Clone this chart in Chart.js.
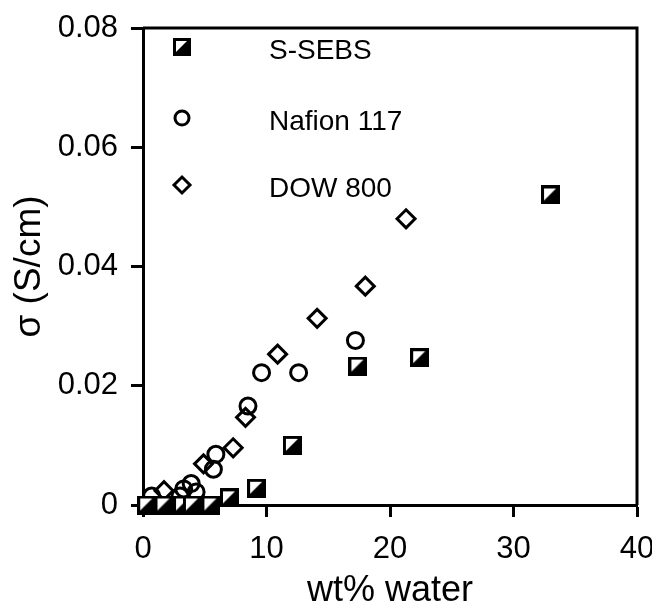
<!DOCTYPE html>
<html><head><meta charset="utf-8">
<script src="https://cdn.jsdelivr.net/npm/chart.js@4/dist/chart.umd.min.js"></script>
<style>html,body{margin:0;padding:0;background:#fff}#wrap{width:652px;height:613px}</style>
</head><body><div id="wrap"><canvas id="c" width="652" height="613"></canvas></div>
<script>
const seriesNames = ['S-SEBS', 'Nafion 117', 'DOW 800'];
const sebsX = [0.3, 1.7, 3.2, 4.0, 5.5, 7.0, 9.2, 12.1, 17.4, 22.4, 33.0];
const sebsY = [0, 0, 0, 0, 0, 0.0012, 0.0028, 0.0100, 0.0233, 0.0247, 0.0520];
const nafionX = [0.7, 3.0, 3.3, 3.9, 4.3, 5.7, 5.9, 8.5, 9.6, 12.6, 17.2];
const nafionY = [0.0015, 0.0015, 0.0027, 0.0036, 0.0022, 0.0060, 0.0085, 0.0166, 0.0222, 0.0222, 0.0276];
const dowX = [1.7, 4.9, 7.3, 8.3, 10.9, 14.1, 18.0, 21.3];
const dowY = [0.0024, 0.0069, 0.0096, 0.0147, 0.0253, 0.0313, 0.0367, 0.0480];
const xTicks = [0, 10, 20, 30, 40];
const yTicks = [0, 0.02, 0.04, 0.06, 0.08];
const yTickLabels = ['0', '0.02', '0.04', '0.06', '0.08'];

const FONT = '"Liberation Sans", Arial, Helvetica, sans-serif';

function makeSquare(s) {
  const c = document.createElement('canvas');
  c.width = s; c.height = s;
  const g = c.getContext('2d');
  g.fillStyle = '#000';
  g.fillRect(0, 0, s, s);
  g.fillStyle = '#fff';
  const b = 3;
  g.beginPath();
  g.moveTo(b, b);
  g.lineTo(s - b - 1, b);
  g.lineTo(b, s - b - 1);
  g.closePath();
  g.fill();
  return c;
}
const squareImg = makeSquare(19);
const squareLegend = makeSquare(18);

function pts(xs, ys) { return xs.map((x, i) => ({x: x, y: ys[i]})); }

const legendPlugin = {
  id: 'insideLegend',
  afterDraw(chart) {
    const ctx = chart.ctx;
    const rows = [47, 118, 185];
    const mx = 182, tx = 269;
    ctx.save();
    ctx.drawImage(squareLegend, mx - 9, rows[0] - 9);
    ctx.lineWidth = 3; ctx.strokeStyle = '#000'; ctx.fillStyle = '#fff';
    ctx.beginPath(); ctx.arc(mx, rows[1], 7, 0, Math.PI * 2); ctx.fill(); ctx.stroke();
    ctx.beginPath();
    const r = 8;
    ctx.moveTo(mx, rows[2] - r); ctx.lineTo(mx + r, rows[2]); ctx.lineTo(mx, rows[2] + r); ctx.lineTo(mx - r, rows[2]); ctx.closePath();
    ctx.fill(); ctx.stroke();
    ctx.fillStyle = '#000';
    ctx.font = '28px ' + FONT;
    ctx.textBaseline = 'middle';
    ctx.textAlign = 'left';
    seriesNames.forEach((n, i) => ctx.fillText(n, tx, rows[i] + 4));
    ctx.restore();
  }
};
const framePlugin = {
  id: 'frame',
  beforeDatasetsDraw(chart) {
    const a = chart.chartArea, ctx = chart.ctx;
    ctx.save();
    ctx.strokeStyle = '#000'; ctx.lineWidth = 3;
    ctx.beginPath();
    ctx.moveTo(a.left, a.top); ctx.lineTo(a.right, a.top); ctx.lineTo(a.right, a.bottom);
    ctx.stroke();
    ctx.restore();
  }
};

new Chart(document.getElementById('c'), {
  type: 'scatter',
  data: {
    datasets: [
      {label: seriesNames[0], data: pts(sebsX, sebsY), pointStyle: squareImg, pointRadius: 10, clip: false},
      {label: seriesNames[1], data: pts(nafionX, nafionY), pointStyle: 'circle', pointRadius: 8, borderWidth: 3, borderColor: '#000', backgroundColor: 'rgba(255,255,255,0)', clip: false},
      {label: seriesNames[2], data: pts(dowX, dowY), pointStyle: 'rectRot', pointRadius: 9, borderWidth: 3, borderColor: '#000', backgroundColor: 'rgba(255,255,255,0)', clip: false}
    ]
  },
  options: {
    responsive: false, animation: false, devicePixelRatio: 1,
    layout: {padding: {top: 28, right: 15, left: 0, bottom: 0}},
    plugins: {legend: {display: false}, tooltip: {enabled: false}},
    scales: {
      x: {
        type: 'linear', min: 0, max: 40,
        afterBuildTicks: s => { s.ticks = xTicks.map(v => ({value: v})); },
        afterFit: s => { s.height = 108; s.paddingRight = 0; s.paddingLeft = 0; },
        ticks: {color: '#000', font: {family: FONT, size: 31}, padding: 14, maxRotation: 0},
        grid: {display: true, drawOnChartArea: false, drawTicks: true, tickLength: 12, tickWidth: 3, tickColor: '#000'},
        border: {display: true, color: '#000', width: 3},
        title: {display: true, text: 'wt% water', color: '#000', font: {family: FONT, size: 36}, padding: {top: 0, bottom: 0}}
      },
      y: {
        type: 'linear', min: 0, max: 0.08,
        afterBuildTicks: s => { s.ticks = yTicks.map(v => ({value: v})); },
        afterFit: s => { s.width = 143; s.paddingTop = 0; s.paddingBottom = 0; },
        ticks: {color: '#000', font: {family: FONT, size: 31}, padding: 13, callback: v => yTickLabels[yTicks.indexOf(v)]},
        grid: {display: true, drawOnChartArea: false, drawTicks: true, tickLength: 12, tickWidth: 3, tickColor: '#000'},
        border: {display: true, color: '#000', width: 3},
        title: {display: true, text: 'σ (S/cm)', color: '#000', font: {family: FONT, size: 37}, padding: {top: 8, bottom: 0}}
      }
    }
  },
  plugins: [framePlugin, legendPlugin]
});
</script>
</body></html>
